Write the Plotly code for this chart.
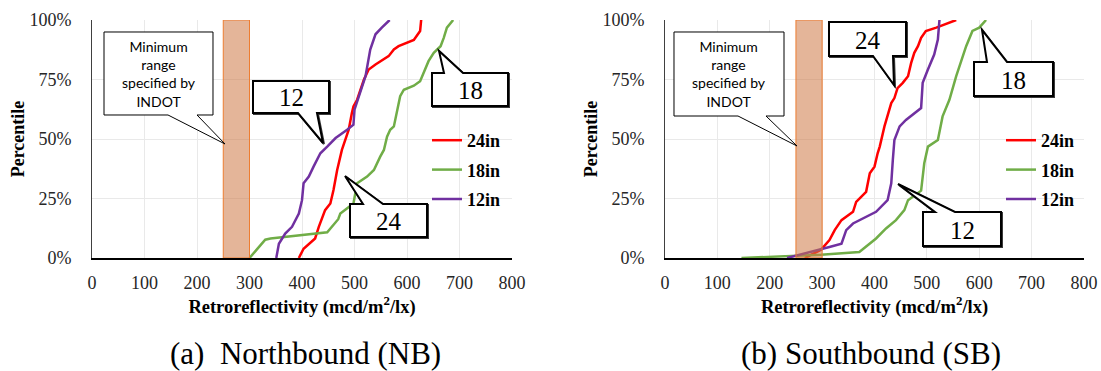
import plotly.graph_objects as go

W, H = 1101, 371

# Cumulative distributions of retroreflectivity (mcd/m2/lx) vs percentile (%)
nb_24_x = [394, 403, 425, 432, 444, 454, 460, 467, 476, 483, 489, 495, 498, 505, 511, 518, 527, 540, 565, 575, 584, 613, 625, 627]
nb_24_y = [0, 3.9, 8.2, 13.1, 20.1, 22.9, 28.6, 37.0, 45.4, 49.6, 53.9, 60.9, 63.7, 66.5, 70.7, 75.0, 79.2, 81.3, 84.8, 87.6, 89.0, 91.6, 95.4, 100]

nb_18_x = [300, 330, 340, 448, 469, 473, 498, 505, 524, 537, 549, 556, 562, 568, 575, 581, 587, 594, 613, 625, 632, 641, 651, 664, 670, 676, 688]
nb_18_y = [0, 7.7, 8.2, 10.8, 16.3, 18.7, 22.9, 31.4, 34.2, 37.0, 42.6, 45.4, 51.0, 53.9, 55.3, 62.3, 68.0, 70.7, 72.4, 74.3, 77.8, 82.7, 86.2, 89.0, 92.5, 96.8, 100]

nb_12_x = [351, 356, 368, 381, 394, 400, 403, 413, 422, 435, 448, 464, 486, 498, 500, 511, 521, 530, 540, 552, 567]
nb_12_y = [0, 6.0, 10.3, 13.1, 18.7, 24.3, 31.4, 34.2, 38.4, 44.0, 46.8, 50.4, 53.9, 56.0, 62.3, 69.3, 76.4, 87.6, 94.0, 96.8, 100]

sb_24_x = [267, 298, 314, 324, 337, 346, 359, 365, 371, 384, 391, 400, 406, 410, 419, 425, 432, 438, 444, 454, 464, 470, 476, 483, 489, 498, 518, 556]
sb_24_y = [0, 3.5, 7.5, 11.7, 15.9, 17.3, 19.4, 23.6, 25.0, 27.8, 35.6, 38.4, 44.0, 46.8, 55.3, 59.5, 65.1, 67.2, 71.4, 73.6, 76.4, 82.0, 86.2, 89.0, 92.5, 95.4, 96.8, 100]

sb_18_x = [146, 298, 371, 403, 422, 441, 457, 464, 489, 495, 502, 521, 530, 543, 556, 565, 575, 587, 600, 613]
sb_18_y = [0, 1.4, 2.5, 8.2, 12.4, 15.9, 20.1, 24.3, 28.3, 39.8, 46.8, 49.6, 59.5, 66.5, 76.4, 82.0, 89.0, 95.4, 96.8, 100]

sb_12_x = [233, 298, 314, 337, 346, 359, 378, 403, 425, 432, 435, 438, 448, 460, 489, 492, 502, 514, 521, 524]
sb_12_y = [0, 3.5, 4.6, 6.0, 11.7, 14.5, 16.6, 19.4, 24.3, 31.4, 41.2, 49.6, 55.3, 58.0, 63.0, 73.6, 79.2, 85.5, 91.8, 100]

series_names = ["24in", "18in", "12in"]
series_colors = ["#FF0000", "#70AD47", "#7030A0"]
indot_range = (250, 300)
x_ticks = [0, 100, 200, 300, 400, 500, 600, 700, 800]
y_ticks = [0, 25, 50, 75, 100]
y_tick_text = ["0%", "25%", "50%", "75%", "100%"]
captions = ["(a)  Northbound (NB)", "(b) Southbound (SB)"]

SERIF = "Liberation Serif, Times New Roman, serif"
SANS = "Lato, Open Sans, sans-serif"


def px(x):
    return x / W


def py(y):
    return 1 - y / H


# plot areas in pixels
LEFT = (92, 512)
RIGHT = (665, 1084)
TOP, BOTTOM = 20, 258

fig = go.Figure()

panels = [
    ("x", "y", "legend", [(nb_24_x, nb_24_y), (nb_18_x, nb_18_y), (nb_12_x, nb_12_y)]),
    ("x2", "y2", "legend2", [(sb_24_x, sb_24_y), (sb_18_x, sb_18_y), (sb_12_x, sb_12_y)]),
]
for xa, ya, leg, data in panels:
    for name, color, (xs, ys) in zip(series_names, series_colors, data):
        fig.add_trace(go.Scatter(
            x=xs, y=ys, mode="lines", name=name, xaxis=xa, yaxis=ya,
            line=dict(color=color, width=2.5), legend=leg, legendgroup=leg + name,
        ))

axis_common = dict(
    showgrid=True, gridcolor="#e9e9e9", gridwidth=1, zeroline=False, automargin=False,
    ticks="", tickfont=dict(family=SERIF, size=18, color="#262626"),
)
xaxis_common = dict(
    axis_common, range=[0, 800], tickvals=x_ticks, showline=True,
    linecolor="#000000", linewidth=1.5, ticklabelstandoff=8,
    title=dict(text="Retroreflectivity (mcd/m<sup>2</sup>/lx)",
               font=dict(family=SERIF, size=18.5, color="#000000", weight="bold"),
               standoff=5),
)
yaxis_common = dict(
    axis_common, range=[0, 100], tickvals=y_ticks, ticktext=y_tick_text,
    showline=True, linecolor="#404040", linewidth=1, ticklabelstandoff=16,
    domain=[py(BOTTOM), py(TOP)],
    title=dict(text="Percentile",
               font=dict(family=SERIF, size=18, color="#000000", weight="bold"),
               standoff=0),
)

legend_common = dict(
    font=dict(family=SERIF, size=18, color="#000000", weight="bold"),
    bgcolor="rgba(0,0,0,0)", xanchor="left", yanchor="top",
    tracegroupgap=3, itemwidth=30,
)

fig.update_layout(
    width=W, height=H, margin=dict(l=0, r=0, t=0, b=0, autoexpand=False),
    font=dict(family=SERIF, color="#000000"),
    paper_bgcolor="white", plot_bgcolor="white",
    xaxis=dict(xaxis_common, domain=[px(LEFT[0]), px(LEFT[1])], anchor="y"),
    yaxis=dict(yaxis_common, anchor="x"),
    xaxis2=dict(xaxis_common, domain=[px(RIGHT[0]), px(RIGHT[1])], anchor="y2"),
    yaxis2=dict(yaxis_common, anchor="x2"),
    legend=dict(legend_common, x=px(427), y=py(122)),
    legend2=dict(legend_common, x=px(1001), y=py(122)),
    showlegend=True,
)

# INDOT minimum range band
for xr, yr in (("x", "y"), ("x2", "y2")):
    fig.add_shape(
        type="rect", xref=xr, yref=yr, x0=indot_range[0], x1=indot_range[1], y0=0, y1=100,
        fillcolor="rgba(205,120,70,0.55)", line=dict(color="#ED7D31", width=1), layer="above",
    )


def callout_path(box, base, tip, side, shift=0.0):
    """Rectangle with a wedge pointer leaving from the top or bottom edge (pixel coords)."""
    x0, y0, x1, y1 = box
    b1, b2 = base
    tx, ty = tip
    if side == "bottom":
        pts = [(x0, y0), (x1, y0), (x1, y1), (b2, y1), (tx, ty), (b1, y1), (x0, y1)]
    else:
        pts = [(x0, y0), (b1, y0), (tx, ty), (b2, y0), (x1, y0), (x1, y1), (x0, y1)]
    return "M " + " L ".join(f"{px(a + shift):.5f},{py(b + shift):.5f}" for a, b in pts) + " Z"


def label(x, y, text, font):
    fig.add_annotation(x=px(x), y=py(y), xref="paper", yref="paper", text=text,
                       showarrow=False, xanchor="center", yanchor="middle", font=font)


callouts = [
    # label, box (x0, y0, x1, y1), pointer base xs, tip, side
    ("12", (253, 81, 329, 113), (298, 317), (323, 143), "bottom"),
    ("18", (432, 73, 508, 106), (444, 463), (439, 51), "top"),
    ("24", (350, 204, 427, 237), (363, 383), (345, 176), "top"),
    ("24", (829, 22, 906, 56), (873, 893), (894, 85), "bottom"),
    ("18", (974, 62, 1053, 96), (987, 1007), (982, 30), "top"),
    ("12", (923, 212, 1001, 246), (935, 955), (898, 184), "top"),
]
for text, box, base, tip, side in callouts:
    # soft drop shadow, then the white callout on top
    fig.add_shape(type="path", xref="paper", yref="paper",
                  path=callout_path(box, base, tip, side, shift=1.0),
                  fillcolor="#3a3a3a", line=dict(color="#3a3a3a", width=2), layer="above")
    fig.add_shape(type="path", xref="paper", yref="paper",
                  path=callout_path(box, base, tip, side),
                  fillcolor="white", line=dict(color="#000000", width=2), layer="above")
    label((box[0] + box[2]) / 2, (box[1] + box[3]) / 2 + 1, text,
          dict(family=SERIF, size=25, color="#000000"))

indot_notes = [
    ((104, 32, 213, 115), (168, 197), (225, 144)),
    ((674, 32, 784, 116), (738, 766), (797, 146)),
]
for box, base, tip in indot_notes:
    fig.add_shape(type="path", xref="paper", yref="paper",
                  path=callout_path(box, base, tip, "bottom"),
                  fillcolor="white", line=dict(color="#000000", width=1), layer="above")
    label((box[0] + box[2]) / 2, (box[1] + box[3]) / 2, "Minimum<br>range<br>specified by<br>INDOT",
          dict(family=SANS, size=14, color="#000000"))

for cap, (a, b), dx in zip(captions, (LEFT, RIGHT), (3, -4)):
    label((a + b) / 2 + dx, 353.5, cap, dict(family=SERIF, size=31, color="#000000"))

fig.write_html("out.html")
